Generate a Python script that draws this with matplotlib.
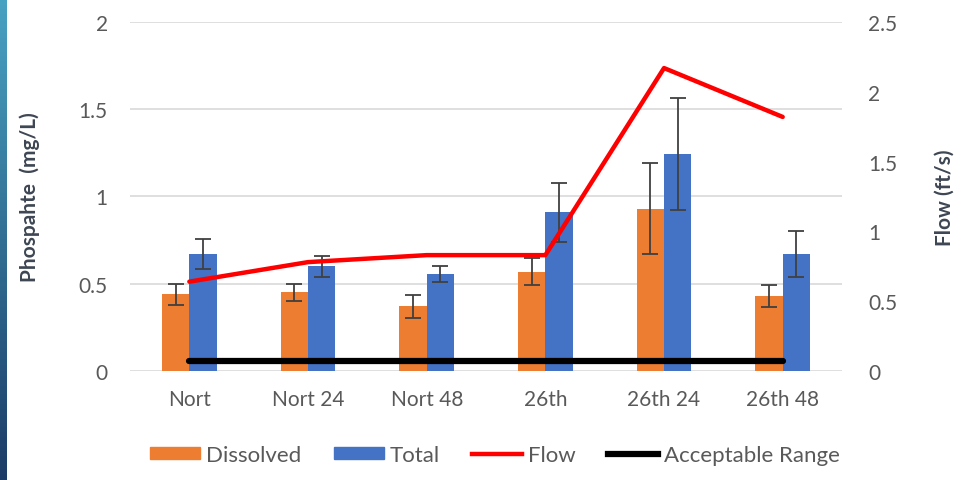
import matplotlib
matplotlib.use('Agg')
from matplotlib import pyplot as plt
from matplotlib.lines import Line2D
from matplotlib.patches import Patch
import numpy as np

plt.rcParams['font.family'] = ['Lato', 'DejaVu Sans']

# DATA
sites = ['Nort', 'Nort 24', 'Nort 48', '26th', '26th 24', '26th 48']
dissolved = [0.44, 0.45, 0.37, 0.57, 0.93, 0.43]
dissolved_err = [0.06, 0.05, 0.065, 0.08, 0.26, 0.065]
total = [0.67, 0.60, 0.555, 0.91, 1.245, 0.67]
total_err = [0.085, 0.06, 0.045, 0.17, 0.32, 0.13]
flow = [0.64, 0.78, 0.83, 0.83, 2.17, 1.82]
acceptable = [0.057] * 6

# STYLE
ORANGE = '#ed7d31'
BLUE = '#4472c4'
TICK = '#595959'
LABEL = '#3d4652'
W = 0.23

fig = plt.figure(figsize=(9.61, 4.81), dpi=100)
ax = fig.add_axes([0.1353, 0.2266, 0.7409, 0.7256])
ax2 = ax.twinx()

# side strip
strip = fig.add_axes([0, 0, 0.0065, 1])
strip.imshow(np.linspace(0, 1, 256).reshape(-1, 1), aspect='auto',
             cmap=matplotlib.colors.LinearSegmentedColormap.from_list('s', ['#48a2c2', '#1b3c66']))
strip.axis('off')

x = np.arange(len(sites))
ax.bar(x - W/2, dissolved, W, color=ORANGE, zorder=2)
ax.bar(x + W/2, total, W, color=BLUE, zorder=2)
ek = dict(fmt='none', ecolor='#404040', elinewidth=1.3, capsize=6, capthick=1.3, zorder=3)
ax.errorbar(x - W/2, dissolved, yerr=dissolved_err, **ek)
ax.errorbar(x + W/2, total, yerr=total_err, **ek)
ax.plot(x, acceptable, color='black', lw=4.5, solid_capstyle='round', zorder=4)

ax2.plot(x, flow, color='#ff0000', lw=3.2, solid_capstyle='round', zorder=4)

ax.set_xlim(-0.5, 5.5)
ax.set_ylim(0, 2)
ax.set_yticks(np.arange(0, 2.01, 0.5), ['0', '0.5', '1', '1.5', '2'])
ax2.set_ylim(0, 2.5)
ax2.set_yticks(np.arange(0, 2.51, 0.5), ['0', '0.5', '1', '1.5', '2', '2.5'])
ax.set_xticks(x, sites)
ax.grid(axis='y', color='#d9d9d9', lw=1.2, zorder=0)
ax.set_axisbelow(True)
for a in (ax, ax2):
    for s in a.spines.values():
        s.set_visible(False)
    a.tick_params(length=0, colors=TICK, labelsize=15)
ax.tick_params(axis='y', pad=16)
ax.tick_params(axis='x', pad=13)
ax2.tick_params(axis='y', pad=19)

ax.set_ylabel('Phospahte  (mg/L)', fontsize=15, fontweight='bold', color=LABEL)
ax.yaxis.set_label_coords(-0.127, 0.5)
ax2.set_ylabel('Flow (ft/s)', fontsize=15, fontweight='bold', color=LABEL)
ax2.yaxis.set_label_coords(1.13, 0.5)

handles = [Patch(color=ORANGE), Patch(color=BLUE),
           Line2D([], [], color='#ff0000', lw=3.2), Line2D([], [], color='black', lw=4.5)]
fig.legend(handles, ['Dissolved', 'Total', 'Flow', 'Acceptable Range'], loc='center',
           bbox_to_anchor=(0.515, 0.052), ncol=4, frameon=False, fontsize=16,
           labelcolor=TICK, handlelength=2.25, handletextpad=0.27, columnspacing=1.45,
           handleheight=0.5)

fig.savefig('out.png', dpi=100)
